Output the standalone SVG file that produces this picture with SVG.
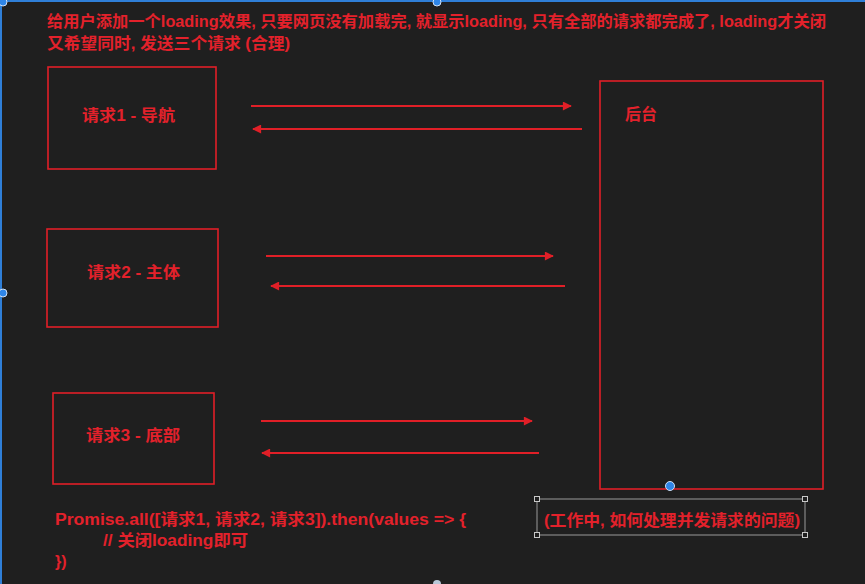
<svg xmlns="http://www.w3.org/2000/svg" width="865" height="584" viewBox="0 0 865 584">
<style>
.bg{fill:#1f1f1f}
.box{fill:none;stroke:#e01f27;stroke-width:1.6}
.t{font-family:"Liberation Sans","Noto Sans CJK SC",sans-serif;font-weight:bold;font-size:16px;fill:#e3212b}
.c{text-anchor:middle}
.ln{stroke:#e01f27;stroke-width:2;fill:none}
.ui{fill:none;stroke:#2f7fd8;stroke-width:2}
.hd{fill:#2f86e8;stroke:#cfe0f5;stroke-width:1}
.sel{fill:none;stroke:#9a9a9a;stroke-width:1}
.sq{fill:#1f1f1f;stroke:#c8c8c8;stroke-width:1}
</style>
<defs>
<marker id="ah" viewBox="0 0 10 10" refX="9" refY="5" markerWidth="5" markerHeight="4.5" orient="auto" markerUnits="strokeWidth">
<path d="M0,0 L10,5 L0,10 Z" fill="#e01f27"/>
</marker>
</defs>
<rect class="bg" x="0" y="0" width="865" height="584"/>
<line class="ui" x1="0" y1="1" x2="865" y2="1"/>
<line class="ui" x1="1" y1="0" x2="1" y2="584"/>
<circle class="hd" cx="3" cy="2" r="4"/>
<circle class="hd" cx="437" cy="2" r="4"/>
<circle class="hd" cx="3" cy="293" r="4"/>
<circle cx="437" cy="584" r="4" fill="#b8c8d8"/>

<g id="title">
<text class="t" x="47" y="27" textLength="779" lengthAdjust="spacingAndGlyphs">给用户添加一个loading效果, 只要网页没有加载完, 就显示loading, 只有全部的请求都完成了, loading才关闭</text>
<text class="t" x="47" y="49" textLength="243" lengthAdjust="spacingAndGlyphs">又希望同时, 发送三个请求 (合理)</text>
</g>

<g id="req1">
<rect class="box" x="48" y="67" width="168" height="102"/>
<text class="t" x="82" y="121" textLength="93" lengthAdjust="spacingAndGlyphs">请求1 - 导航</text>
</g>
<g id="req2">
<rect class="box" x="47" y="229" width="171" height="98"/>
<text class="t" x="87" y="278" textLength="93" lengthAdjust="spacingAndGlyphs">请求2 - 主体</text>
</g>
<g id="req3">
<rect class="box" x="53" y="393" width="161" height="91"/>
<text class="t" x="86" y="441" textLength="94" lengthAdjust="spacingAndGlyphs">请求3 - 底部</text>
</g>
<g id="backend">
<rect class="box" x="600" y="81" width="223" height="408"/>
<text class="t" x="625" y="120">后台</text>
</g>

<g id="connectors">
<line class="ln" x1="251" y1="106" x2="571" y2="106" marker-end="url(#ah)"/>
<line class="ln" x1="582" y1="129" x2="253" y2="129" marker-end="url(#ah)"/>
<line class="ln" x1="266" y1="256" x2="553" y2="256" marker-end="url(#ah)"/>
<line class="ln" x1="565" y1="286" x2="271" y2="286" marker-end="url(#ah)"/>
<line class="ln" x1="261" y1="421" x2="532" y2="421" marker-end="url(#ah)"/>
<line class="ln" x1="539" y1="453" x2="262" y2="453" marker-end="url(#ah)"/>
</g>

<circle class="hd" cx="670" cy="486" r="4.5"/>

<g id="code">
<text class="t" x="55" y="525" textLength="411" lengthAdjust="spacingAndGlyphs">Promise.all([请求1, 请求2, 请求3]).then(values =&gt; {</text>
<text class="t" x="103" y="546" textLength="145" lengthAdjust="spacingAndGlyphs">// 关闭loading即可</text>
<text class="t" x="55" y="567">})</text>
</g>

<g id="note">
<rect class="sel" x="537" y="499" width="268" height="36"/>
<rect class="sq" x="534.5" y="496.5" width="5" height="5"/>
<rect class="sq" x="802.5" y="496.5" width="5" height="5"/>
<rect class="sq" x="534.5" y="532.5" width="5" height="5"/>
<rect class="sq" x="802.5" y="532.5" width="5" height="5"/>
<text class="t" x="544" y="526" textLength="256" lengthAdjust="spacingAndGlyphs">(工作中, 如何处理并发请求的问题)</text>
</g>
</svg>
